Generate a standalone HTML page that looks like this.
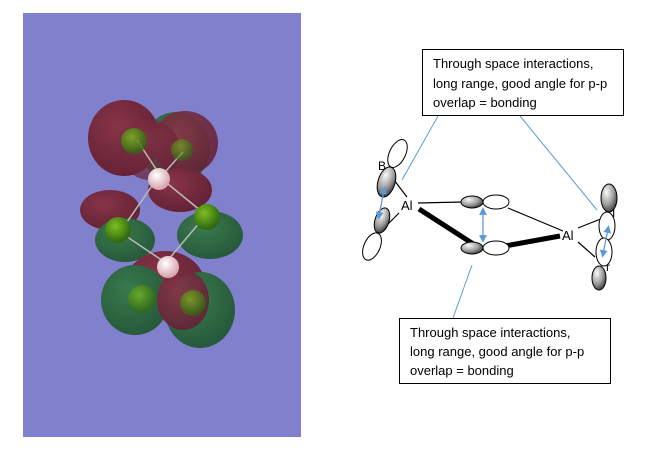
<!DOCTYPE html>
<html><head><meta charset="utf-8"><style>
html,body{margin:0;padding:0;background:#fff;width:670px;height:461px;overflow:hidden}
svg{display:block}
text{font-family:"Liberation Sans",sans-serif}
</style></head><body>
<svg width="670" height="461" viewBox="0 0 670 461" xmlns="http://www.w3.org/2000/svg">
<defs>
<radialGradient id="gs" cx="35%" cy="30%" r="75%"><stop offset="0" stop-color="#fafafa"/><stop offset="0.6" stop-color="#9a9a9a"/><stop offset="1" stop-color="#3a3a3a"/></radialGradient>
<radialGradient id="rd" cx="40%" cy="35%" r="70%"><stop offset="0" stop-color="#8a2a35"/><stop offset="1" stop-color="#5e1420"/></radialGradient>
<radialGradient id="gr" cx="40%" cy="35%" r="70%"><stop offset="0" stop-color="#2f7a3a"/><stop offset="1" stop-color="#1a5226"/></radialGradient>
<radialGradient id="at" cx="40%" cy="35%" r="60%"><stop offset="0" stop-color="#7fbf20"/><stop offset="1" stop-color="#2f6a10"/></radialGradient>
<radialGradient id="pk" cx="40%" cy="35%" r="60%"><stop offset="0" stop-color="#fff"/><stop offset="1" stop-color="#d8a8b0"/></radialGradient>
<marker id="ah" markerWidth="6" markerHeight="6" refX="3" refY="3" orient="auto-start-reverse"><path d="M0,0 L6,3 L0,6 z" fill="#5b9bd5"/></marker>
</defs>
<rect x="23" y="13" width="278" height="424" fill="#8080cc"/>
<g opacity="0.88">
<ellipse cx="176" cy="148" rx="34" ry="36" fill="url(#gr)"/>
<ellipse cx="124" cy="138" rx="36" ry="38" fill="url(#rd)"/>
<ellipse cx="185" cy="143" rx="33" ry="32" fill="url(#rd)" opacity="0.9"/>
<ellipse cx="150" cy="150" rx="30" ry="30" fill="url(#rd)" opacity="0.7"/>
<ellipse cx="110" cy="210" rx="30" ry="20" fill="url(#rd)"/>
<ellipse cx="180" cy="190" rx="32" ry="22" fill="url(#rd)"/>
<ellipse cx="125" cy="240" rx="30" ry="22" fill="url(#gr)"/>
<ellipse cx="210" cy="235" rx="33" ry="24" fill="url(#gr)"/>
<ellipse cx="165" cy="285" rx="40" ry="34" fill="url(#rd)"/>
<ellipse cx="135" cy="300" rx="34" ry="35" fill="url(#gr)"/>
<ellipse cx="200" cy="310" rx="35" ry="38" fill="url(#gr)"/>
<ellipse cx="183" cy="300" rx="26" ry="30" fill="url(#rd)" opacity="0.9"/>
</g>
<g stroke="#bbb" stroke-width="1.5">
<line x1="156" y1="180" x2="120" y2="232"/><line x1="163" y1="180" x2="206" y2="215"/>
<line x1="120" y1="232" x2="166" y2="263"/><line x1="206" y1="215" x2="168" y2="260"/>
<line x1="137" y1="140" x2="158" y2="172"/><line x1="183" y1="152" x2="165" y2="172"/>
</g>
<circle cx="134" cy="141" r="13" fill="url(#at)" opacity="0.8"/>
<circle cx="182" cy="150" r="11" fill="url(#at)" opacity="0.6"/>
<circle cx="159" cy="179" r="11" fill="url(#pk)"/>
<circle cx="118" cy="230" r="13" fill="url(#at)"/>
<circle cx="207" cy="217" r="13" fill="url(#at)"/>
<circle cx="168" cy="267" r="11" fill="url(#pk)"/>
<circle cx="142" cy="299" r="14" fill="url(#at)" opacity="0.7"/>
<circle cx="193" cy="303" r="13" fill="url(#at)" opacity="0.7"/>

<g stroke="#5b9bd5" stroke-width="1">
<line x1="438" y1="116" x2="402" y2="180"/>
<line x1="520" y1="116" x2="597" y2="210"/>
<line x1="472" y1="265" x2="453" y2="318"/>
</g>
<rect x="422.5" y="49.5" width="201" height="66" fill="#fff" stroke="#000"/>
<text font-size="13" fill="#000"><tspan x="433" y="68">Through space interactions,</tspan><tspan x="433" y="88">long range, good angle for p-p</tspan><tspan x="433" y="107">overlap = bonding</tspan></text>
<rect x="399.5" y="318.5" width="211" height="65" fill="#fff" stroke="#000"/>
<text font-size="13" fill="#000"><tspan x="410" y="337">Through space interactions,</tspan><tspan x="410" y="356">long range, good angle for p-p</tspan><tspan x="410" y="375">overlap = bonding</tspan></text>

<g stroke="#000" stroke-width="1.2" fill="none">
<line x1="418" y1="203" x2="462" y2="202"/>
<line x1="508" y1="208" x2="563" y2="231"/>
<line x1="394" y1="180" x2="407" y2="197"/>
<line x1="399" y1="213" x2="385" y2="227"/>
<line x1="578" y1="228" x2="603" y2="218"/>
<line x1="578" y1="242" x2="595" y2="257"/>
</g>
<line x1="419" y1="209" x2="478" y2="247" stroke="#000" stroke-width="5"/>
<line x1="505" y1="246" x2="560" y2="236" stroke="#000" stroke-width="5"/>

<g stroke="#000" stroke-width="1">
<ellipse cx="472" cy="202" rx="11" ry="6" fill="url(#gs)"/>
<ellipse cx="496" cy="202" rx="13" ry="7" fill="#fff"/>
<ellipse cx="472" cy="248" rx="11" ry="6" fill="url(#gs)"/>
<ellipse cx="496" cy="248" rx="13" ry="7" fill="#fff"/>
<ellipse cx="397.5" cy="153.5" rx="8" ry="15" fill="#fff" transform="rotate(26 397.5 153.5)"/>
<ellipse cx="386.5" cy="182" rx="8.5" ry="15.5" fill="url(#gs)" transform="rotate(17 386.5 182)"/>
<ellipse cx="382" cy="220.5" rx="7" ry="13" fill="url(#gs)" transform="rotate(18 382 220.5)"/>
<ellipse cx="372" cy="246.5" rx="8" ry="14.5" fill="#fff" transform="rotate(24 372 246.5)"/>
<ellipse cx="607" cy="226" rx="8" ry="14" fill="#fff"/>
<ellipse cx="604" cy="252" rx="8" ry="14" fill="#fff"/>
<ellipse cx="609" cy="198" rx="8" ry="14" fill="url(#gs)"/>
<ellipse cx="599" cy="278" rx="7" ry="12" fill="url(#gs)"/>
</g>
<g stroke="#5b9bd5" stroke-width="1.3" marker-start="url(#ah)" marker-end="url(#ah)">
<line x1="483" y1="211" x2="483" y2="239"/>
<line x1="384" y1="190" x2="379" y2="216"/>
<line x1="608" y1="229" x2="603" y2="254"/>
</g>
<text x="401" y="210" font-size="13" fill="#000">Al</text>
<text x="562" y="240" font-size="13" fill="#000">Al</text>
<text x="378" y="170" font-size="12" fill="#000">B</text>
<text x="612" y="217" font-size="12" fill="#000">I</text>
<text x="606" y="271" font-size="12" fill="#000">r</text>
</svg>
</body></html>
